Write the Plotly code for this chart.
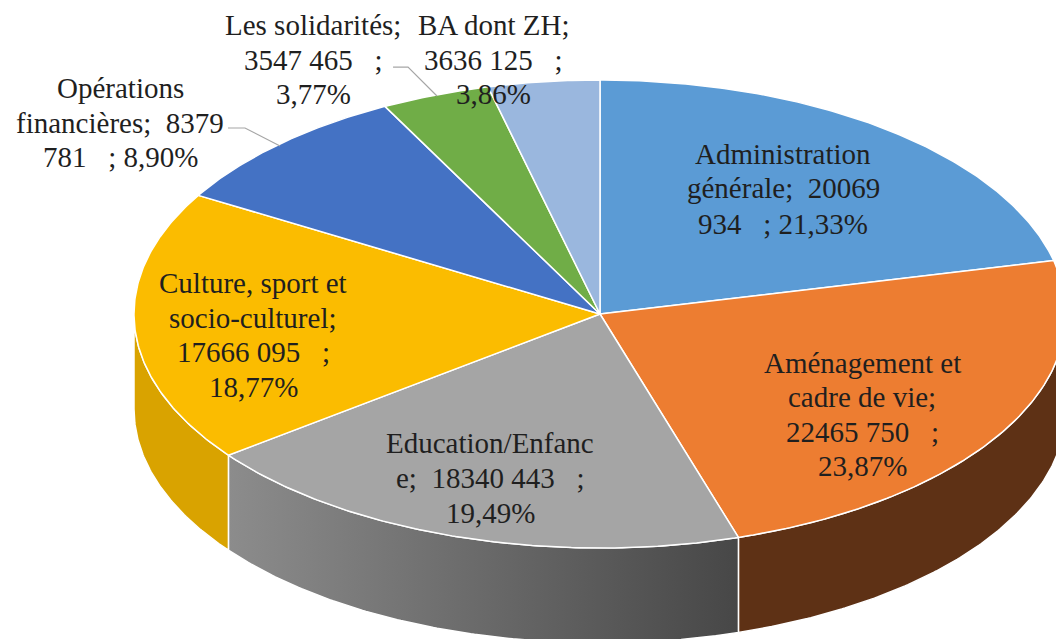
import numpy as np
import plotly.graph_objects as go

CATEGORIES = ["Administration générale", "Aménagement et cadre de vie", "Education/Enfance",
              "Culture, sport et socio-culturel", "Opérations financières", "Les solidarités", "BA dont ZH"]
VALUES = [20069934, 22465750, 18340443, 17666095, 8379781, 3547465, 3636125]
TOP_COLORS = ["#5B9BD5", "#ED7D31", "#A5A5A5", "#FBBC00", "#4472C4", "#70AD47", "#9AB7DE"]
WALL_SCALES = [None,
               [[0, "#5E3115"], [1, "#5E3115"]],
               [[0, "#8C8C8C"], [1, "#474747"]],
               [[0, "#D9A300"], [1, "#D9A300"]],
               None, None, None]
LABEL_LINES = [
    ["Administration", "générale;\u00a0\u00a020069", "934\u00a0\u00a0\u00a0; 21,33%"],
    ["Aménagement et", "cadre de vie;", "22465 750\u00a0\u00a0\u00a0;", "23,87%"],
    ["Education/Enfanc", "e;\u00a0\u00a018340 443\u00a0\u00a0\u00a0;", "19,49%"],
    ["Culture, sport et", "socio-culturel;", "17666 095\u00a0\u00a0\u00a0;", "18,77%"],
    ["Opérations", "financières;\u00a0\u00a08379", "781\u00a0\u00a0\u00a0; 8,90%"],
    ["Les solidarités;", "3547 465\u00a0\u00a0\u00a0;", "3,77%"],
    ["BA dont ZH;", "3636 125\u00a0\u00a0\u00a0;", "3,86%"],
]
LABEL_CENTER_X = [783, 862, 490, 253, 120, 313, 493]
LABEL_LINE_Y = [[154, 188, 224], [363, 397, 432, 466], [443, 478, 513], [283, 318, 352, 387],
                [88, 123, 157], [25, 60, 94], [25, 60, 94]]
LEADERS = [[(228, 128), (245, 128), (280, 146)], [(393, 67), (408, 67), (437, 96)]]

W, H = 1056, 639
CX, CY, RX, RY, DEPTH = 600, 314, 466, 234, 95
x_range = [-CX / RX, (W - CX) / RX]
y_range = [-(H - CY) / RY, CY / RY]
depth = DEPTH / RY

total = sum(VALUES)
edges = np.concatenate([[0], np.cumsum(VALUES)]) / total * 2 * np.pi


def arc(a, b):
    t = np.linspace(a, b, max(int((b - a) * 120), 2))
    return np.sin(t), np.cos(t)


fig = go.Figure()
# side walls, only where the rim faces the viewer
for i in range(len(VALUES)):
    a, b = max(edges[i], np.pi / 2), min(edges[i + 1], 3 * np.pi / 2)
    if a >= b or WALL_SCALES[i] is None:
        continue
    x, y = arc(a, b)
    fig.add_trace(go.Scatter(
        x=np.concatenate([x, x[::-1], x[:1]]),
        y=np.concatenate([y, y[::-1] - depth, y[:1]]),
        mode="lines", fill="toself",
        line=dict(color="white", width=1.5),
        fillgradient=dict(type="horizontal", colorscale=WALL_SCALES[i]),
        hoverinfo="skip", showlegend=False))
# top face
for i, name in enumerate(CATEGORIES):
    x, y = arc(edges[i], edges[i + 1])
    fig.add_trace(go.Scatter(
        x=np.concatenate([[0], x, [0]]),
        y=np.concatenate([[0], y, [0]]),
        mode="lines", fill="toself", fillcolor=TOP_COLORS[i],
        line=dict(color="white", width=1.5),
        name=name, hoverinfo="name", showlegend=False))

annotations = []
for lines, cx, ys in zip(LABEL_LINES, LABEL_CENTER_X, LABEL_LINE_Y):
    for text, py in zip(lines, ys):
        annotations.append(dict(
            text=text, x=cx / W, y=1 - py / H, xref="paper", yref="paper",
            xanchor="center", yanchor="middle", showarrow=False,
            font=dict(family="Liberation Serif", size=29, color="#1F1F1F")))

shapes = []
for pts in LEADERS:
    path = "M " + " L ".join(f"{px / W:.4f},{1 - py / H:.4f}" for px, py in pts)
    shapes.append(dict(type="path", path=path, xref="paper", yref="paper",
                       line=dict(color="#A6A6A6", width=1.2)))

fig.update_layout(
    width=W, height=H, margin=dict(l=0, r=0, t=0, b=0),
    paper_bgcolor="white", plot_bgcolor="white",
    xaxis=dict(range=x_range, visible=False, fixedrange=True),
    yaxis=dict(range=y_range, visible=False, fixedrange=True),
    annotations=annotations, shapes=shapes, showlegend=False)
fig.write_html("out.html", post_script="document.body.style.margin='0';",
               config=dict(displayModeBar=False))
